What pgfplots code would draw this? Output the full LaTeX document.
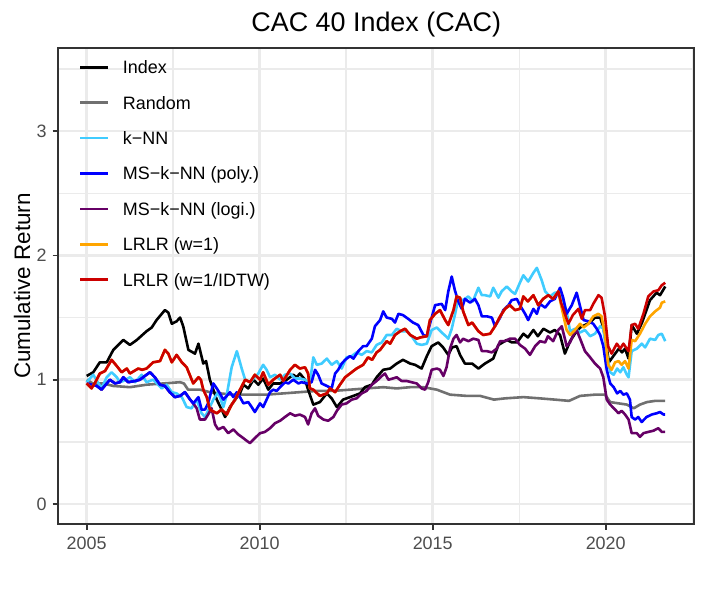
\documentclass[border=0pt]{standalone}
\usepackage{fontspec}
\setmainfont{Liberation Sans}
\usepackage{pgfplots}
\pgfplotsset{compat=1.18}
\definecolor{gridc}{HTML}{EBEBEB}
\definecolor{grey20}{HTML}{333333}
\definecolor{grey30}{HTML}{4D4D4D}
\definecolor{cRandom}{HTML}{707070}
\definecolor{cKNN}{HTML}{40CCFF}
\definecolor{cPoly}{HTML}{0000FF}
\definecolor{cLogi}{HTML}{660066}
\definecolor{cWone}{HTML}{FFA500}
\definecolor{cIDTW}{HTML}{CC0000}
\begin{document}
\begin{tikzpicture}
\begin{axis}[
  scale only axis, width=636bp, height=476.6bp,
  xmin=2004.18, xmax=2022.56, ymin=-0.163, ymax=3.671,
  xtick={2005,2010,2015,2020}, ytick={0,1,2,3},
  minor xtick={2007.5,2012.5,2017.5,2022.5}, minor ytick={0.5,1.5,2.5,3.5},
  grid=both,
  major grid style={draw=gridc, line width=2.7bp},
  minor grid style={draw=gridc, line width=1.4bp},
  tick align=outside, tick pos=left,
  major tick length=5.6bp, minor tick length=0pt,
  tick style={draw=grey20, line width=1.8bp},
  axis line style={draw=grey20, line width=1.8bp},
  /pgf/number format/assume math mode=true,
  /pgf/number format/1000 sep={},
  ticklabel style={font=\fontsize{18}{18}\selectfont, text=grey30, inner sep=0pt},
  xticklabel style={anchor=north, yshift=-6.8bp},
  yticklabel style={anchor=east, xshift=-6bp},
  title={CAC 40 Index (CAC)},
  every axis title/.style={at={(axis description cs:0.5,1)}, anchor=base, yshift=16.3bp, inner sep=0pt, font=\fontsize{27}{27}\selectfont},
  ylabel={Cumulative Return},
  every axis y label/.style={at={(axis description cs:-0.0445,0.5)}, rotate=90, anchor=base, inner sep=0pt, font=\fontsize{22.5}{22.5}\selectfont},
  legend style={at={(axis description cs:0.0325,0.9748)}, anchor=north west, draw=none, fill=none,
    inner sep=0pt, outer sep=0pt, row sep=17.4bp, column sep=13.4bp,
    font=\fontsize{18}{18}\selectfont, cells={anchor=base west},
    nodes={inner sep=0pt, text height=14bp, text depth=4bp}},
  legend image code/.code={\path[draw=none, fill=none] (0bp,-4bp) rectangle (28bp,14bp); \draw[#1, line width=2.6bp] (0bp,6.5bp) -- (28bp,6.5bp);},
  every axis plot/.append style={line width=2.6bp, line join=round},
]
\addlegendimage{black}\addlegendentry{Index}
\addlegendimage{cRandom}\addlegendentry{Random}
\addlegendimage{cKNN}\addlegendentry{k−NN}
\addlegendimage{cPoly}\addlegendentry{MS−k−NN (poly.)}
\addlegendimage{cLogi}\addlegendentry{MS−k−NN (logi.)}
\addlegendimage{cWone}\addlegendentry{LRLR (w=1)}
\addlegendimage{cIDTW}\addlegendentry{LRLR (w=1/IDTW)}

% Random
\addplot[cRandom, forget plot] coordinates {(2005.00,1.00)(2005.18,0.97)(2005.48,0.97)(2005.77,0.95)(2006.25,0.94)(2006.73,0.96)(2007.21,0.97)(2007.70,0.98)(2007.81,0.97)(2007.93,0.92)(2008.27,0.92)(2008.56,0.90)(2008.85,0.89)(2009.24,0.88)(2009.58,0.88)(2010.20,0.88)(2010.68,0.89)(2011.16,0.90)(2011.65,0.91)(2012.12,0.91)(2012.61,0.92)(2013.07,0.93)(2013.57,0.94)(2013.96,0.93)(2014.35,0.94)(2014.73,0.94)(2015.12,0.92)(2015.50,0.88)(2015.98,0.87)(2016.37,0.87)(2016.77,0.84)(2017.09,0.85)(2017.62,0.86)(2018.10,0.85)(2018.53,0.84)(2018.94,0.83)(2019.26,0.87)(2019.69,0.88)(2019.98,0.88)(2020.13,0.82)(2020.61,0.80)(2020.81,0.77)(2020.99,0.80)(2021.19,0.82)(2021.43,0.83)(2021.72,0.83)};

% Index
\addplot[black, forget plot] coordinates {(2005.00,1.03)(2005.19,1.06)(2005.38,1.14)(2005.58,1.14)(2005.77,1.24)(2006.06,1.32)(2006.25,1.28)(2006.45,1.32)(2006.73,1.39)(2006.88,1.42)(2007.02,1.48)(2007.26,1.56)(2007.36,1.54)(2007.46,1.45)(2007.60,1.47)(2007.70,1.50)(2007.79,1.43)(2007.94,1.24)(2008.13,1.21)(2008.23,1.29)(2008.37,1.13)(2008.45,1.15)(2008.56,1.00)(2008.76,0.84)(2008.90,0.76)(2009.00,0.70)(2009.14,0.78)(2009.29,0.84)(2009.43,0.89)(2009.53,0.96)(2009.67,0.93)(2009.82,1.00)(2009.96,0.96)(2010.10,1.01)(2010.25,0.92)(2010.39,0.97)(2010.59,0.97)(2010.78,1.00)(2010.97,1.04)(2011.07,1.02)(2011.16,1.05)(2011.31,1.00)(2011.40,0.92)(2011.55,0.80)(2011.74,0.82)(2011.94,0.89)(2012.08,0.85)(2012.23,0.78)(2012.41,0.84)(2012.61,0.86)(2012.90,0.89)(2013.04,0.94)(2013.24,0.96)(2013.38,1.02)(2013.57,1.08)(2013.77,1.09)(2013.96,1.13)(2014.14,1.16)(2014.35,1.13)(2014.49,1.12)(2014.68,1.09)(2014.83,1.19)(2014.97,1.27)(2015.16,1.30)(2015.30,1.26)(2015.45,1.20)(2015.56,1.26)(2015.69,1.27)(2015.79,1.20)(2015.93,1.13)(2016.14,1.13)(2016.32,1.09)(2016.51,1.13)(2016.75,1.17)(2016.90,1.28)(2017.14,1.32)(2017.29,1.30)(2017.44,1.30)(2017.62,1.37)(2017.75,1.34)(2017.91,1.40)(2018.04,1.35)(2018.20,1.41)(2018.39,1.38)(2018.53,1.40)(2018.68,1.36)(2018.82,1.21)(2018.97,1.31)(2019.11,1.37)(2019.26,1.42)(2019.40,1.44)(2019.55,1.46)(2019.69,1.50)(2019.84,1.50)(2019.93,1.42)(2020.02,1.28)(2020.09,1.14)(2020.22,1.19)(2020.38,1.25)(2020.47,1.22)(2020.56,1.25)(2020.66,1.17)(2020.75,1.44)(2020.90,1.37)(2021.05,1.46)(2021.28,1.64)(2021.47,1.70)(2021.57,1.68)(2021.72,1.75)};

% k-NN
\addplot[cKNN, forget plot] coordinates {(2005.00,0.98)(2005.19,1.04)(2005.30,0.99)(2005.43,0.93)(2005.58,1.02)(2005.72,1.06)(2005.87,1.02)(2005.96,0.98)(2006.06,0.99)(2006.25,1.02)(2006.40,0.98)(2006.59,1.04)(2006.73,0.98)(2006.92,1.00)(2007.17,0.93)(2007.31,0.96)(2007.46,0.90)(2007.60,0.89)(2007.75,0.86)(2007.89,0.78)(2008.03,0.77)(2008.18,0.84)(2008.32,0.73)(2008.42,0.70)(2008.56,0.78)(2008.66,0.84)(2008.80,0.90)(2008.95,0.78)(2009.05,0.88)(2009.19,1.10)(2009.34,1.23)(2009.48,1.09)(2009.58,1.00)(2009.72,0.98)(2009.86,1.02)(2009.96,1.05)(2010.10,1.12)(2010.20,1.08)(2010.30,1.02)(2010.44,1.04)(2010.59,1.00)(2010.73,1.04)(2010.88,1.05)(2011.02,1.01)(2011.16,1.01)(2011.31,1.00)(2011.45,0.97)(2011.55,1.18)(2011.65,1.12)(2011.79,1.13)(2011.94,1.17)(2012.08,1.12)(2012.23,1.15)(2012.37,1.09)(2012.51,1.18)(2012.66,1.19)(2012.80,1.22)(2012.95,1.20)(2013.09,1.23)(2013.24,1.22)(2013.38,1.28)(2013.53,1.30)(2013.67,1.36)(2013.82,1.36)(2013.96,1.41)(2014.10,1.39)(2014.25,1.39)(2014.39,1.35)(2014.54,1.29)(2014.68,1.28)(2014.83,1.29)(2014.97,1.40)(2015.12,1.42)(2015.26,1.38)(2015.38,1.35)(2015.45,1.33)(2015.55,1.41)(2015.64,1.52)(2015.74,1.65)(2015.88,1.64)(2016.03,1.67)(2016.16,1.63)(2016.32,1.74)(2016.42,1.68)(2016.51,1.68)(2016.66,1.67)(2016.75,1.74)(2016.90,1.66)(2016.99,1.71)(2017.14,1.75)(2017.28,1.71)(2017.38,1.69)(2017.52,1.78)(2017.62,1.84)(2017.76,1.79)(2017.91,1.86)(2018.01,1.90)(2018.15,1.80)(2018.25,1.71)(2018.39,1.67)(2018.53,1.70)(2018.68,1.70)(2018.77,1.64)(2018.87,1.55)(2018.97,1.39)(2019.11,1.41)(2019.26,1.38)(2019.40,1.40)(2019.55,1.35)(2019.69,1.37)(2019.84,1.43)(2019.93,1.41)(2020.03,1.21)(2020.13,1.06)(2020.23,1.04)(2020.33,1.09)(2020.42,1.06)(2020.51,1.10)(2020.61,1.04)(2020.66,1.02)(2020.75,1.23)(2020.90,1.25)(2021.04,1.29)(2021.14,1.26)(2021.28,1.33)(2021.43,1.32)(2021.52,1.36)(2021.62,1.37)(2021.72,1.31)};

% MS-k-NN (logi.)
\addplot[cLogi, forget plot] coordinates {(2005.00,0.97)(2005.14,0.96)(2005.29,0.95)(2005.43,0.92)(2005.58,0.97)(2005.67,1.00)(2005.82,0.97)(2005.96,0.98)(2006.06,1.02)(2006.20,0.98)(2006.40,0.99)(2006.54,1.00)(2006.68,1.03)(2006.83,1.06)(2006.97,1.02)(2007.12,0.96)(2007.26,0.95)(2007.40,0.90)(2007.55,0.86)(2007.70,0.87)(2007.84,0.90)(2007.99,0.84)(2008.08,0.81)(2008.18,0.77)(2008.27,0.68)(2008.42,0.68)(2008.51,0.72)(2008.61,0.77)(2008.71,0.64)(2008.80,0.60)(2008.95,0.62)(2009.09,0.57)(2009.24,0.60)(2009.38,0.56)(2009.48,0.54)(2009.62,0.51)(2009.72,0.49)(2009.86,0.53)(2010.01,0.57)(2010.15,0.58)(2010.30,0.61)(2010.44,0.65)(2010.59,0.67)(2010.73,0.70)(2010.88,0.73)(2011.02,0.71)(2011.16,0.72)(2011.31,0.70)(2011.40,0.64)(2011.50,0.73)(2011.60,0.77)(2011.69,0.71)(2011.84,0.68)(2011.98,0.67)(2012.13,0.70)(2012.23,0.75)(2012.37,0.80)(2012.51,0.81)(2012.66,0.84)(2012.80,0.85)(2012.95,0.89)(2013.09,0.91)(2013.24,0.96)(2013.38,0.99)(2013.53,1.03)(2013.62,1.05)(2013.72,1.00)(2013.85,1.01)(2013.96,1.02)(2014.10,0.99)(2014.25,0.99)(2014.39,0.98)(2014.54,0.97)(2014.68,0.93)(2014.78,0.92)(2014.87,0.98)(2014.97,1.08)(2015.12,1.09)(2015.21,1.08)(2015.31,1.03)(2015.40,1.10)(2015.50,1.25)(2015.60,1.33)(2015.69,1.36)(2015.79,1.30)(2015.88,1.33)(2016.03,1.31)(2016.17,1.33)(2016.32,1.32)(2016.42,1.23)(2016.56,1.23)(2016.71,1.22)(2016.85,1.25)(2016.95,1.31)(2017.09,1.31)(2017.23,1.33)(2017.38,1.33)(2017.52,1.28)(2017.67,1.25)(2017.81,1.20)(2017.96,1.27)(2018.10,1.31)(2018.25,1.30)(2018.33,1.35)(2018.48,1.31)(2018.63,1.40)(2018.73,1.43)(2018.82,1.33)(2018.87,1.27)(2018.97,1.30)(2019.06,1.36)(2019.16,1.40)(2019.26,1.33)(2019.40,1.23)(2019.55,1.18)(2019.69,1.13)(2019.84,1.09)(2019.93,1.02)(2020.03,0.84)(2020.13,0.80)(2020.27,0.76)(2020.37,0.73)(2020.46,0.75)(2020.56,0.72)(2020.66,0.68)(2020.75,0.57)(2020.90,0.57)(2020.99,0.54)(2021.09,0.57)(2021.23,0.58)(2021.38,0.59)(2021.52,0.61)(2021.62,0.58)(2021.72,0.58)};

% MS-k-NN (poly.)
\addplot[cPoly, forget plot] coordinates {(2005.00,0.97)(2005.14,0.96)(2005.29,0.95)(2005.43,0.92)(2005.58,0.97)(2005.67,1.00)(2005.82,0.97)(2005.96,0.98)(2006.06,1.02)(2006.20,0.98)(2006.40,0.99)(2006.54,1.00)(2006.68,1.03)(2006.83,1.06)(2006.97,1.02)(2007.12,0.96)(2007.26,0.95)(2007.40,0.90)(2007.55,0.86)(2007.70,0.87)(2007.84,0.90)(2007.99,0.84)(2008.08,0.81)(2008.23,0.86)(2008.32,0.76)(2008.42,0.76)(2008.51,0.81)(2008.66,0.97)(2008.76,0.93)(2008.85,0.89)(2008.95,0.84)(2009.05,0.87)(2009.14,0.90)(2009.24,0.86)(2009.34,0.90)(2009.43,0.86)(2009.53,0.81)(2009.67,0.82)(2009.77,0.78)(2009.86,0.74)(2010.01,0.81)(2010.10,0.78)(2010.20,0.84)(2010.30,0.90)(2010.39,0.92)(2010.49,0.91)(2010.59,0.94)(2010.73,0.98)(2010.83,0.97)(2010.97,1.00)(2011.12,0.97)(2011.21,0.98)(2011.36,0.97)(2011.50,0.98)(2011.60,1.08)(2011.69,1.04)(2011.79,0.97)(2011.94,0.95)(2012.08,0.93)(2012.18,1.05)(2012.27,1.08)(2012.37,1.13)(2012.47,1.16)(2012.61,1.19)(2012.71,1.17)(2012.85,1.23)(2012.99,1.27)(2013.09,1.27)(2013.24,1.33)(2013.33,1.43)(2013.48,1.48)(2013.57,1.55)(2013.67,1.50)(2013.82,1.49)(2013.91,1.46)(2014.01,1.53)(2014.14,1.52)(2014.29,1.49)(2014.43,1.46)(2014.58,1.44)(2014.73,1.36)(2014.83,1.35)(2014.92,1.45)(2015.07,1.60)(2015.26,1.61)(2015.36,1.56)(2015.45,1.71)(2015.55,1.83)(2015.64,1.72)(2015.74,1.63)(2015.84,1.57)(2015.93,1.65)(2016.08,1.62)(2016.22,1.65)(2016.32,1.60)(2016.42,1.51)(2016.56,1.51)(2016.71,1.50)(2016.80,1.43)(2016.95,1.50)(2017.04,1.56)(2017.19,1.60)(2017.28,1.64)(2017.43,1.65)(2017.52,1.60)(2017.67,1.53)(2017.76,1.48)(2017.91,1.57)(2018.01,1.53)(2018.10,1.61)(2018.25,1.58)(2018.39,1.63)(2018.53,1.65)(2018.68,1.74)(2018.77,1.66)(2018.87,1.53)(2019.02,1.60)(2019.16,1.70)(2019.26,1.59)(2019.36,1.48)(2019.50,1.47)(2019.64,1.45)(2019.74,1.41)(2019.84,1.36)(2019.93,1.27)(2020.03,1.08)(2020.13,0.97)(2020.23,0.94)(2020.33,0.89)(2020.42,0.91)(2020.51,0.88)(2020.61,0.89)(2020.70,0.84)(2020.75,0.70)(2020.85,0.68)(2020.94,0.70)(2021.04,0.66)(2021.18,0.70)(2021.33,0.72)(2021.47,0.73)(2021.57,0.74)(2021.67,0.72)(2021.72,0.72)};

% LRLR (w=1)
\addplot[cWone, forget plot] coordinates {(2005.00,0.97)(2005.14,0.93)(2005.27,0.99)(2005.38,1.05)(2005.53,1.07)(2005.72,1.16)(2005.87,1.11)(2006.01,1.06)(2006.16,1.09)(2006.25,1.05)(2006.49,1.09)(2006.60,1.08)(2006.73,1.09)(2006.92,1.14)(2007.12,1.15)(2007.26,1.24)(2007.36,1.21)(2007.46,1.14)(2007.60,1.20)(2007.75,1.14)(2007.89,1.10)(2008.08,0.97)(2008.23,1.02)(2008.30,1.00)(2008.37,0.92)(2008.47,0.86)(2008.56,0.76)(2008.76,0.73)(2008.90,0.76)(2009.05,0.72)(2009.19,0.80)(2009.29,0.84)(2009.43,0.92)(2009.58,1.00)(2009.72,0.98)(2009.86,1.04)(2010.01,1.00)(2010.10,1.06)(2010.25,0.96)(2010.39,1.00)(2010.59,1.04)(2010.68,0.99)(2010.88,1.08)(2011.02,1.12)(2011.16,1.09)(2011.31,1.10)(2011.40,1.05)(2011.45,0.93)(2011.55,0.92)(2011.74,0.87)(2011.94,0.89)(2012.03,0.93)(2012.18,0.90)(2012.32,0.96)(2012.47,1.02)(2012.61,1.05)(2012.80,1.09)(2012.99,1.12)(2013.13,1.18)(2013.25,1.16)(2013.38,1.22)(2013.48,1.24)(2013.67,1.31)(2013.77,1.29)(2013.91,1.36)(2014.06,1.39)(2014.20,1.41)(2014.35,1.36)(2014.54,1.33)(2014.64,1.34)(2014.83,1.35)(2014.92,1.48)(2015.07,1.53)(2015.21,1.56)(2015.36,1.48)(2015.45,1.44)(2015.60,1.56)(2015.69,1.67)(2015.79,1.66)(2015.88,1.55)(2016.03,1.44)(2016.14,1.46)(2016.32,1.39)(2016.46,1.36)(2016.66,1.37)(2016.80,1.43)(2016.95,1.51)(2017.09,1.57)(2017.23,1.60)(2017.38,1.56)(2017.52,1.57)(2017.62,1.67)(2017.75,1.63)(2017.91,1.68)(2018.05,1.60)(2018.19,1.65)(2018.34,1.68)(2018.48,1.65)(2018.63,1.71)(2018.71,1.60)(2018.87,1.40)(2018.97,1.36)(2019.11,1.40)(2019.26,1.45)(2019.36,1.42)(2019.50,1.45)(2019.64,1.51)(2019.79,1.53)(2019.88,1.51)(2019.98,1.36)(2020.07,1.12)(2020.17,1.08)(2020.27,1.14)(2020.37,1.15)(2020.46,1.12)(2020.56,1.15)(2020.66,1.09)(2020.75,1.32)(2020.85,1.31)(2020.99,1.37)(2021.14,1.45)(2021.28,1.51)(2021.43,1.55)(2021.57,1.58)(2021.62,1.62)(2021.72,1.63)};

% LRLR (w=1/IDTW)
\addplot[cIDTW, forget plot] coordinates {(2005.00,0.97)(2005.14,0.93)(2005.27,0.99)(2005.38,1.05)(2005.53,1.07)(2005.72,1.16)(2005.87,1.11)(2006.01,1.06)(2006.16,1.09)(2006.25,1.05)(2006.49,1.09)(2006.60,1.08)(2006.73,1.09)(2006.92,1.14)(2007.12,1.15)(2007.26,1.24)(2007.36,1.21)(2007.46,1.14)(2007.60,1.20)(2007.75,1.14)(2007.89,1.10)(2008.08,0.97)(2008.23,1.02)(2008.30,1.00)(2008.37,0.92)(2008.47,0.86)(2008.56,0.76)(2008.76,0.73)(2008.90,0.76)(2009.05,0.72)(2009.19,0.80)(2009.29,0.84)(2009.43,0.92)(2009.58,1.00)(2009.72,0.98)(2009.86,1.04)(2010.01,1.00)(2010.10,1.06)(2010.25,0.96)(2010.39,1.00)(2010.59,1.04)(2010.68,0.99)(2010.88,1.08)(2011.02,1.12)(2011.16,1.09)(2011.31,1.10)(2011.40,1.05)(2011.45,0.93)(2011.55,0.92)(2011.74,0.87)(2011.94,0.89)(2012.03,0.93)(2012.18,0.90)(2012.32,0.96)(2012.47,1.02)(2012.61,1.05)(2012.80,1.09)(2012.99,1.12)(2013.13,1.18)(2013.25,1.16)(2013.38,1.22)(2013.48,1.24)(2013.67,1.31)(2013.77,1.29)(2013.91,1.36)(2014.06,1.39)(2014.20,1.41)(2014.35,1.36)(2014.54,1.33)(2014.64,1.34)(2014.83,1.35)(2014.92,1.48)(2015.07,1.53)(2015.21,1.56)(2015.36,1.48)(2015.45,1.44)(2015.60,1.56)(2015.69,1.67)(2015.79,1.66)(2015.88,1.55)(2016.03,1.44)(2016.14,1.46)(2016.32,1.39)(2016.46,1.36)(2016.66,1.37)(2016.80,1.43)(2016.95,1.51)(2017.09,1.57)(2017.23,1.60)(2017.38,1.56)(2017.52,1.57)(2017.62,1.67)(2017.75,1.63)(2017.91,1.68)(2018.05,1.60)(2018.19,1.65)(2018.34,1.68)(2018.48,1.65)(2018.63,1.71)(2018.71,1.62)(2018.82,1.53)(2018.92,1.45)(2019.05,1.52)(2019.21,1.57)(2019.31,1.49)(2019.40,1.56)(2019.55,1.56)(2019.64,1.61)(2019.79,1.68)(2019.88,1.66)(2019.98,1.51)(2020.07,1.27)(2020.17,1.21)(2020.32,1.29)(2020.42,1.25)(2020.51,1.29)(2020.66,1.23)(2020.75,1.44)(2020.85,1.45)(2020.94,1.41)(2021.09,1.53)(2021.23,1.67)(2021.38,1.71)(2021.52,1.72)(2021.62,1.76)(2021.72,1.78)};
\end{axis}
\pgfresetboundingbox
\path[use as bounding box] (-58.3bp,-66.7bp) rectangle (647.7bp,524.3bp);
\end{tikzpicture}
\end{document}
